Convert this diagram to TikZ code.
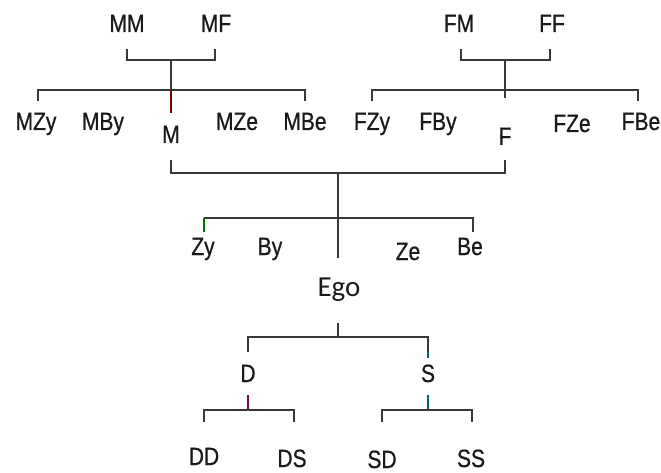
\documentclass[tikz,border=0pt]{standalone}
\usepackage{fontspec}
\setmainfont{Liberation Sans}[FakeStretch=0.84,FakeBold=0.6]
\newfontfamily\egofont{Carlito}
\begin{document}
\begin{tikzpicture}[x=1pt,y=-1pt,
  lbl/.style={anchor=base,inner sep=0pt,font=\fontsize{25}{28}\selectfont,text=black!90},
  egolbl/.style={anchor=base,inner sep=0pt,font=\egofont\fontsize{29}{30}\selectfont,text=black!90},
  ln/.style={line width=1.8pt,draw=black!78,line cap=butt,line join=miter},
  redln/.style={ln,draw=red!45!black},
  grnln/.style={ln,draw=green!45!black},
  tealln/.style={ln,draw=teal!80!black},
  purln/.style={ln,draw=violet!70!red!80!black}]
\useasboundingbox (0,0) rectangle (661,473);
\fill[white] (0,0) rectangle (661,473);
% labels
\node[lbl] (MM) at (127,32) {MM};
\node[lbl] (MF) at (216,32) {MF};
\node[lbl] (FM) at (459,32) {FM};
\node[lbl] (FF) at (552,32) {FF};
\node[lbl] (MZy) at (36,130) {MZy};
\node[lbl] (MBy) at (103,130) {MBy};
\node[lbl] (M) at (171,143) {M};
\node[lbl] (MZe) at (237,130) {MZe};
\node[lbl] (MBe) at (305,130) {MBe};
\node[lbl] (FZy) at (372,130) {FZy};
\node[lbl] (FBy) at (438,130) {FBy};
\node[lbl] (F) at (505,145) {F};
\node[lbl] (FZe) at (572,132) {FZe};
\node[lbl] (FBe) at (641,130) {FBe};
\node[lbl] (Zy) at (203,255) {Zy};
\node[lbl] (By) at (270,255) {By};
\node[lbl] (Ze) at (408,260) {Ze};
\node[lbl] (Be) at (470,255) {Be};
\node[egolbl] (Ego) at (339,296) {Ego};
\node[lbl] (D) at (248,382) {D};
\node[lbl] (S) at (428,382) {S};
\node[lbl] (DD) at (204,465) {DD};
\node[lbl] (DS) at (292,467) {DS};
\node[lbl] (SD) at (382,468) {SD};
\node[lbl] (SS) at (471,467) {SS};
% junction coordinates
\coordinate (mmU) at (127,49); \coordinate (mmL) at (127,60);
\coordinate (mfU) at (215,49); \coordinate (mfL) at (215,60);
\coordinate (mpJ) at (171,60); \coordinate (mJ) at (171,90);
\coordinate (mzyE) at (38,101); \coordinate (mzyC) at (38,90);
\coordinate (mbeE) at (305,101); \coordinate (mbeC) at (305,90);
\coordinate (mS) at (171,113);
\coordinate (fmU) at (461,49); \coordinate (fmL) at (461,60);
\coordinate (ffU) at (550,49); \coordinate (ffL) at (550,60);
\coordinate (fpJ) at (505,60); \coordinate (fJ) at (505,90);
\coordinate (fzyE) at (372,101); \coordinate (fzyC) at (372,90);
\coordinate (fbeE) at (638,101); \coordinate (fbeC) at (638,90);
\coordinate (fS) at (505,98);
\coordinate (mD) at (171,160); \coordinate (mDC) at (171,173);
\coordinate (fD) at (505,160); \coordinate (fDC) at (505,173);
\coordinate (pJ) at (338,173); \coordinate (egoT) at (338,258);
\coordinate (zyC) at (204,218); \coordinate (zyE) at (204,232);
\coordinate (beC) at (473,218); \coordinate (beE) at (473,232);
\coordinate (egoB) at (338,323); \coordinate (cJ) at (338,337);
\coordinate (dC) at (248,337); \coordinate (dE) at (248,352);
\coordinate (sC) at (428,337); \coordinate (sE) at (428,352);
\coordinate (dB) at (248,395); \coordinate (dJ) at (248,410);
\coordinate (ddC) at (204,410); \coordinate (ddE) at (204,422);
\coordinate (dsC) at (294,410); \coordinate (dsE) at (294,422);
\coordinate (sB) at (428,395); \coordinate (sJJ) at (428,410);
\coordinate (sdC) at (382,410); \coordinate (sdE) at (382,422);
\coordinate (ssC) at (472,410); \coordinate (ssE) at (472,422);
% mother's side
\draw[ln] (mmU) -- (mmL) -- (mfL) -- (mfU);
\draw[ln] (mpJ) -- (mJ);
\draw[ln] (mzyE) -- (mzyC) -- (mbeC) -- (mbeE);
\draw[redln] (mJ) -- (mS);
% father's side
\draw[ln] (fmU) -- (fmL) -- (ffL) -- (ffU);
\draw[ln] (fpJ) -- (fJ);
\draw[ln] (fzyE) -- (fzyC) -- (fbeC) -- (fbeE);
\draw[ln] (fJ) -- (fS);
% parents
\draw[ln] (mD) -- (mDC) -- (fDC) -- (fD);
\draw[ln] (pJ) -- (egoT);
\draw[ln] (zyC) -- (beC) -- (beE);
\draw[grnln] (zyE) -- (zyC);
% children
\draw[ln] (egoB) -- (cJ);
\draw[ln] (dE) -- (dC) -- (sC) -- (sE);
\draw[tealln] ([yshift=-6pt]sE) -- (sE);
\draw[purln] (dB) -- (dJ);
\draw[ln] (ddE) -- (ddC) -- (dsC) -- (dsE);
\draw[tealln] (sB) -- (sJJ);
\draw[ln] (sdE) -- (sdC) -- (ssC) -- (ssE);
\end{tikzpicture}
\end{document}
